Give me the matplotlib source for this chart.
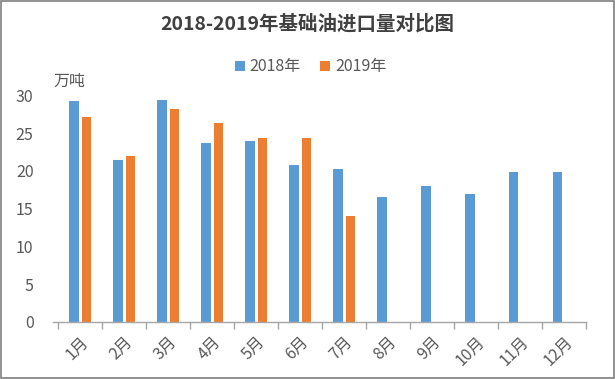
import matplotlib
matplotlib.use("Agg")
import matplotlib.pyplot as plt
import numpy as np
from matplotlib.patches import Rectangle

plt.rcParams['font.family'] = ['Noto Sans CJK SC', 'DejaVu Sans']

months = ['1月', '2月', '3月', '4月', '5月', '6月', '7月', '8月', '9月', '10月', '11月', '12月']
v2018 = [29.3, 21.5, 29.4, 23.7, 23.9, 20.8, 20.3, 16.5, 18.0, 16.9, 19.8, 19.9]
v2019 = [27.2, 22.0, 28.2, 26.4, 24.3, 24.3, 14.0]
yticks = [0, 5, 10, 15, 20, 25, 30]

blue = '#5B9BD5'
orange = '#ED7D31'
txt = '#595959'
axc = '#A6A6A6'

fig = plt.figure(figsize=(6.15, 3.79), dpi=100)
ax = fig.add_axes([53/615, 57/379, (586-53)/615, (322.3-95.7)/379])

x = np.arange(len(months))
w = 0.22
off = 0.145
ax.bar(x - off, v2018, width=w, color=blue, label='2018年')
ax.bar(np.arange(len(v2019)) + off, v2019, width=w, color=orange, label='2019年')

ax.set_xlim(-0.62, 11.5)
ax.set_ylim(0, 30)
ax.set_yticks(yticks)
ax.set_yticklabels([str(t) for t in yticks], color=txt, fontsize=11.5)
ax.tick_params(axis='y', length=0, pad=14)

ax.set_xticks(np.arange(-0.5, 12, 1), minor=False)
ax.set_xticklabels([])
ax.set_xticks(x, minor=True)
ax.set_xticklabels(months, minor=True, rotation=45, ha='right', va='top',
                   rotation_mode='anchor', color=txt, fontsize=11.5)
ax.tick_params(axis='x', which='major', length=5, color=axc, width=1)
ax.tick_params(axis='x', which='minor', length=0, pad=8)

for s in ['top', 'right', 'left']:
    ax.spines[s].set_visible(False)
ax.spines['bottom'].set_color(axc)
ax.spines['bottom'].set_linewidth(1)

ax.text(-0.6, 30.7, '万吨', color=txt, fontsize=11.5, ha='left', va='bottom')

fig.text(0.5, 1 - 24/379, '2018-2019年基础油进口量对比图', ha='center', va='center',
         fontsize=14, fontweight='bold', color='#404040')

leg = fig.legend(loc='center', bbox_to_anchor=(0.505, 1 - 67/379), ncol=2, frameon=False,
                 fontsize=11.5, handlelength=0.65, handleheight=0.65, handletextpad=0.3,
                 columnspacing=1.2)
for t in leg.get_texts():
    t.set_color(txt)

fig.patches.append(Rectangle((0.0015, 0.0025), 0.997, 0.995, transform=fig.transFigure,
                             fill=False, edgecolor='#7F7F7F', linewidth=1.2))

fig.savefig('out.png', dpi=100)
